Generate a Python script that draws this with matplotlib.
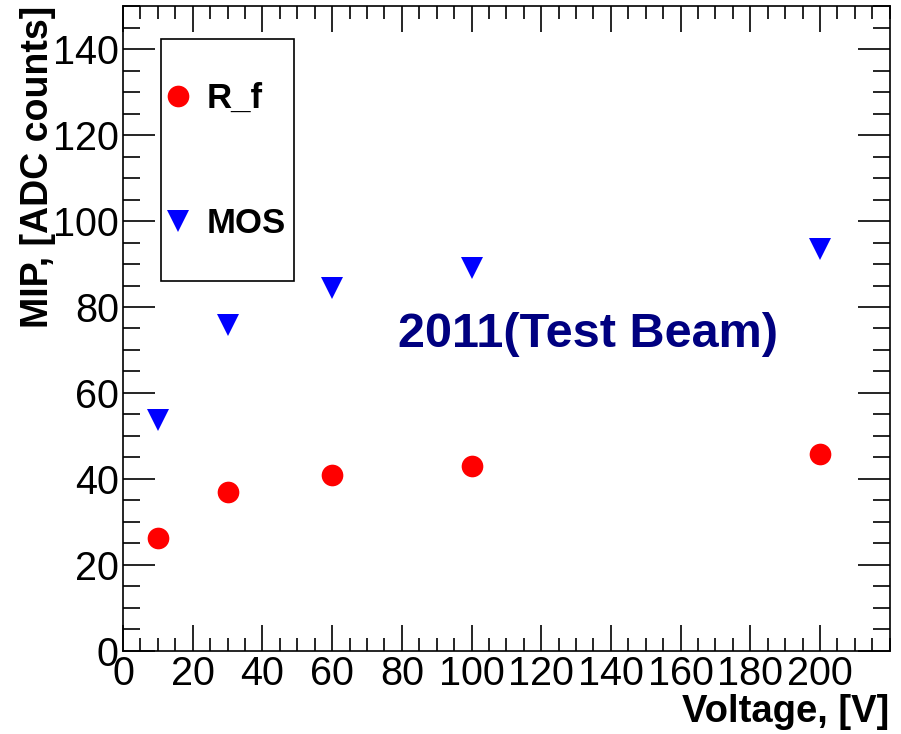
import matplotlib
matplotlib.use("Agg")
import matplotlib.pyplot as plt
from matplotlib.patches import Rectangle
from matplotlib.ticker import MultipleLocator

plt.rcParams["font.family"] = ["Liberation Sans", "DejaVu Sans"]

voltage = [10, 30, 60, 100, 200]
mip_rf = [26.2, 36.9, 40.9, 43.0, 45.7]
mip_mos = [53.6, 75.8, 84.5, 89.1, 93.6]

fig = plt.figure(figsize=(9.01, 7.34), dpi=100)
ax = fig.add_axes([0.1365, 0.1135, 0.851, 0.878])

ax.plot(voltage, mip_rf, "o", color="#ff0000", markersize=15.6,
        markeredgewidth=0, label="R_f")
ax.plot(voltage, mip_mos, "v", color="#0000ff", markersize=15.6,
        markeredgewidth=0, label="MOS")

ax.set_xlim(0, 220)
ax.set_ylim(0, 150)
ax.xaxis.set_major_locator(MultipleLocator(20))
ax.xaxis.set_minor_locator(MultipleLocator(5))
ax.yaxis.set_major_locator(MultipleLocator(20))
ax.yaxis.set_minor_locator(MultipleLocator(5))
ax.set_xticks(range(0, 201, 20))
ax.tick_params(which="both", direction="in", top=True, right=True,
               labelsize=28.5, width=1.2, pad=3)
ax.tick_params(axis="x", which="major", length=19)
ax.tick_params(axis="x", which="minor", length=9.5)
ax.tick_params(axis="y", which="major", length=23)
ax.tick_params(axis="y", which="minor", length=12)
for s in ax.spines.values():
    s.set_linewidth(1.2)

ax.set_xlabel("Voltage, [V]", fontsize=27.5, fontweight="bold", loc="right")
ax.xaxis.label.set_va("baseline")
ax.xaxis.set_label_coords(1.0, -0.1106)
ax.set_ylabel("MIP, [ADC counts]", fontsize=27, fontweight="bold", loc="top")
ax.yaxis.set_label_coords(-0.087, 1.0)

ax.text(0.607, 0.4718, "2011(Test Beam)", transform=ax.transAxes,
        fontsize=35, fontweight="bold", color="#000080",
        ha="center", va="baseline")

# legend box drawn separately so the padding can differ per direction
ax.add_patch(Rectangle((0.0495, 0.574), 0.1735, 0.375, transform=ax.transAxes,
                       fill=False, edgecolor="black", linewidth=1.2, zorder=3))
leg = ax.legend(loc="center left", bbox_to_anchor=(0.0535, 0.7595),
                prop={"weight": "bold", "size": 25}, frameon=False,
                handletextpad=0.42, labelspacing=2.65, borderpad=0,
                handlelength=0.8, borderaxespad=0)

fig.savefig("out.png", dpi=100)
